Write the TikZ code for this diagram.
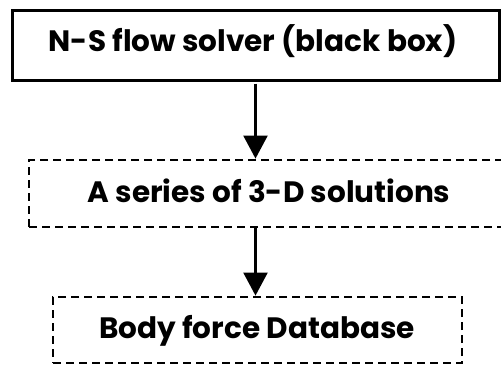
\documentclass[tikz,border=0pt]{standalone}
\usepackage{fontspec}
\setmainfont{Poppins}
\usetikzlibrary{arrows.meta}
\begin{document}
\begin{tikzpicture}[x=1pt,y=-1pt,
  solidbox/.style={draw, line width=3pt, inner sep=0pt},
  dashbox/.style={draw, line width=2.8pt, dash pattern=on 8pt off 5pt, inner sep=0pt},
  boxtext/.style={font=\bfseries\fontsize{29.5}{36}\selectfont, anchor=base, inner sep=0pt},
  flow/.style={-{Triangle[width=24pt,length=23pt]}, line width=2.2pt}]
\useasboundingbox (0,0) rectangle (501,365);
\clip (0,0) rectangle (501,365);
% the three stages
\node[solidbox, minimum width=487pt, minimum height=70pt] (solver) at (255.5,45) {};
\node[dashbox, minimum width=483pt, minimum height=67pt] (series) at (270.5,193.5) {};
\node[dashbox, minimum width=409pt, minimum height=66pt] (dbase) at (257.5,330) {};
% labels
\node[boxtext] (t1) at (253,51) {N-S flow solver (black box)};
\node[boxtext] (t2) at (269,202) {A series of 3-D solutions};
\node[boxtext] (t3) at (257,338) {Body force Database};
% flow between stages
\draw[flow] ([yshift=-2pt]solver.south) -- (solver.south |- series.north);
\draw[flow] (solver.south |- series.south) -- (solver.south |- dbase.north);
\end{tikzpicture}
\end{document}
